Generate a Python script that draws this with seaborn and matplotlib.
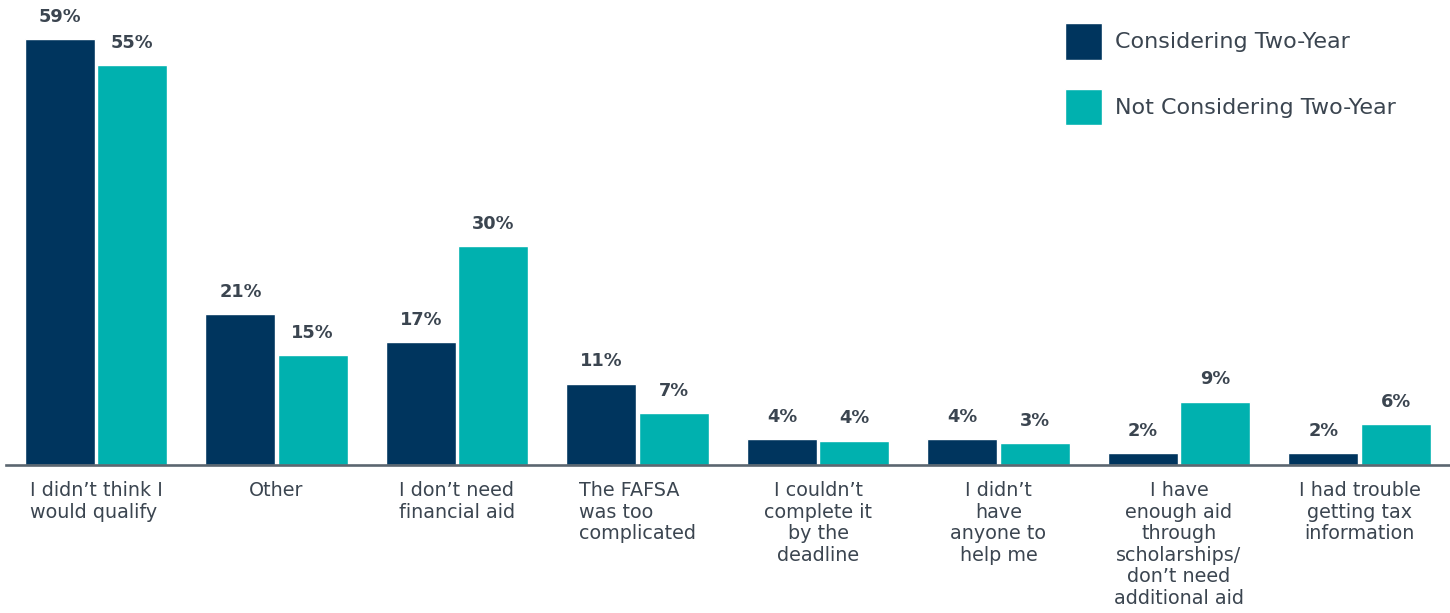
import pandas as pd
import numpy as np

import matplotlib.pyplot as plt
from matplotlib.patches import Patch
plt.switch_backend('agg')

import seaborn as sns
sns.set_style('white')
plt.rcParams['font.family'] = ['DejaVu Sans']

# data
categories = ['I didn\u2019t think I\nwould qualify',
              'Other',
              'I don\u2019t need\nfinancial aid',
              'The FAFSA\nwas too\ncomplicated',
              'I couldn\u2019t\ncomplete it\nby the\ndeadline',
              'I didn\u2019t\nhave\nanyone to\nhelp me',
              'I have\nenough aid\nthrough\nscholarships/\ndon\u2019t need\nadditional aid',
              'I had trouble\ngetting tax\ninformation']
left_aligned = [0, 2, 3]

groups = ['Considering Two-Year', 'Not Considering Two-Year']
considering = [58.9, 20.8, 17.0, 11.2, 3.5, 3.5, 1.6, 1.6]
not_considering = [55.3, 15.2, 30.3, 7.1, 3.3, 2.95, 8.7, 5.6]
considering_labels = ['59%', '21%', '17%', '11%', '4%', '4%', '2%', '2%']
not_considering_labels = ['55%', '15%', '30%', '7%', '4%', '3%', '9%', '6%']

NAVY = '#00355E'
TEAL = '#00B1AF'
TEXT = '#3b4550'

df = pd.DataFrame({
    'category': categories * 2,
    'group': [groups[0]] * len(categories) + [groups[1]] * len(categories),
    'value': considering + not_considering,
})

fig = plt.figure(figsize=(14.5, 6.13), dpi=100)
ax = fig.add_axes([5.75 / 1450, 148.5 / 613, 1444 / 1450, 447.6 / 613])

sns.barplot(data=df, x='category', y='value', hue='group', order=categories,
            hue_order=groups, palette=[NAVY, TEAL], width=0.8, gap=0.03,
            saturation=1, legend=False, ax=ax)

ax.set_xlim(-0.5, len(categories) - 0.5)
ax.set_ylim(0, 62)
ax.set_xlabel('')
ax.set_ylabel('')
ax.set_yticks([])
for side in ['top', 'right', 'left']:
    ax.spines[side].set_visible(False)
ax.spines['bottom'].set_color('#5b6670')
ax.spines['bottom'].set_linewidth(1.9)

ax.tick_params(axis='x', length=0, pad=12, labelsize=13.8, labelcolor=TEXT)
for i, lbl in enumerate(ax.get_xticklabels()):
    lbl.set_linespacing(1.17)
    if i in left_aligned:
        lbl.set_multialignment('left')
    else:
        lbl.set_multialignment('center')

# value labels above bars
for container, labels in zip(ax.containers, [considering_labels, not_considering_labels]):
    for bar, txt in zip(container, labels):
        ax.annotate(txt, (bar.get_x() + bar.get_width() / 2, bar.get_height()),
                    xytext=(0, 16), textcoords='offset points',
                    ha='center', va='center', fontsize=12.8,
                    fontweight='bold', color=TEXT)

handles = [Patch(facecolor=NAVY), Patch(facecolor=TEAL)]
fig.legend(handles, groups, loc='upper left',
           bbox_to_anchor=(1065 / 1450, 1 - 22.7 / 613),
           frameon=False, fontsize=16, labelcolor=TEXT,
           handlelength=1.67, handleheight=2.18, handletextpad=0.6,
           labelspacing=1.3, borderpad=0, borderaxespad=0)

fig.savefig('out.png', dpi=100)
plt.close()
